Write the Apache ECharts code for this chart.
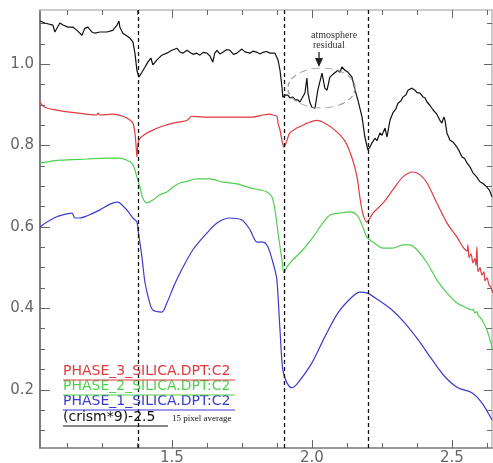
<!DOCTYPE html>
<html><head><meta charset="utf-8">
<script src="https://cdn.jsdelivr.net/npm/echarts@6/dist/echarts.min.js"></script>
<style>html,body{margin:0;padding:0;background:#fff}#c{width:493px;height:463px}</style>
</head><body><div id="c"></div>
<script>
// wavelength (micron), value
const crism = [[1.029,1.106],[1.046,1.101],[1.075,1.096],[1.082,1.079],[1.1,1.101],[1.111,1.096],[1.129,1.091],[1.146,1.091],[1.161,1.083],[1.179,1.071],[1.189,1.088],[1.2,1.091],[1.214,1.079],[1.225,1.076],[1.243,1.079],[1.268,1.079],[1.289,1.083],[1.304,1.096],[1.311,1.106],[1.314,1.091],[1.325,1.076],[1.35,1.064],[1.361,1.054],[1.368,1.027],[1.375,0.985],[1.382,0.968],[1.393,0.98],[1.404,0.993],[1.414,1.005],[1.425,1.015],[1.432,0.998],[1.446,1.01],[1.464,1.022],[1.482,1.027],[1.5,1.034],[1.518,1.039],[1.529,1.03],[1.539,1.027],[1.554,1.034],[1.564,1.029],[1.575,1.024],[1.589,1.027],[1.6,1.022],[1.611,1.029],[1.625,1.027],[1.636,1.02],[1.646,1.005],[1.653,1.027],[1.661,1.034],[1.671,1.025],[1.682,1.029],[1.696,1.036],[1.707,1.034],[1.72,1.024],[1.732,1.027],[1.75,1.037],[1.761,1.03],[1.779,1.027],[1.79,1.032],[1.804,1.029],[1.815,1.025],[1.825,1.029],[1.838,1.031],[1.85,1.027],[1.868,1.027],[1.879,1.01],[1.886,0.985],[1.893,0.944],[1.896,0.919],[1.904,0.924],[1.914,0.924],[1.921,0.917],[1.932,0.919],[1.94,0.912],[1.95,0.912],[1.957,0.907],[1.964,0.904],[1.975,0.929],[1.982,0.966],[1.986,0.929],[1.993,0.905],[2.0,0.894],[2.007,0.89],[2.011,0.892],[2.021,0.936],[2.036,0.978],[2.046,0.941],[2.054,0.936],[2.064,0.968],[2.075,0.975],[2.082,0.978],[2.093,0.985],[2.1,0.98],[2.107,0.993],[2.118,0.985],[2.129,0.98],[2.143,0.968],[2.154,0.936],[2.164,0.912],[2.179,0.87],[2.189,0.821],[2.2,0.789],[2.207,0.796],[2.214,0.806],[2.225,0.818],[2.232,0.812],[2.243,0.831],[2.25,0.825],[2.261,0.843],[2.268,0.821],[2.279,0.863],[2.289,0.88],[2.3,0.89],[2.307,0.904],[2.318,0.91],[2.325,0.919],[2.336,0.925],[2.343,0.936],[2.35,0.932],[2.357,0.941],[2.368,0.936],[2.375,0.93],[2.386,0.929],[2.396,0.92],[2.404,0.917],[2.411,0.907],[2.421,0.899],[2.432,0.888],[2.446,0.877],[2.457,0.862],[2.464,0.855],[2.471,0.87],[2.475,0.863],[2.482,0.831],[2.493,0.813],[2.505,0.808],[2.518,0.796],[2.527,0.785],[2.536,0.772],[2.545,0.768],[2.554,0.757],[2.564,0.748],[2.575,0.733],[2.586,0.725],[2.6,0.711],[2.612,0.706],[2.625,0.698],[2.634,0.69],[2.643,0.674]];
const phase3 = [[1.029,0.907],[1.046,0.894],[1.089,0.887],[1.136,0.882],[1.196,0.877],[1.232,0.875],[1.236,0.88],[1.243,0.875],[1.289,0.877],[1.325,0.872],[1.35,0.863],[1.361,0.855],[1.368,0.831],[1.372,0.8],[1.375,0.772],[1.379,0.805],[1.386,0.818],[1.404,0.828],[1.432,0.838],[1.468,0.848],[1.504,0.855],[1.529,0.858],[1.554,0.862],[1.571,0.872],[1.611,0.87],[1.661,0.87],[1.732,0.87],[1.789,0.87],[1.825,0.875],[1.85,0.877],[1.861,0.875],[1.875,0.872],[1.879,0.855],[1.886,0.838],[1.893,0.813],[1.9,0.796],[1.911,0.813],[1.921,0.831],[1.946,0.843],[1.968,0.85],[1.982,0.855],[2.018,0.862],[2.046,0.855],[2.082,0.838],[2.118,0.811],[2.143,0.77],[2.161,0.723],[2.171,0.674],[2.182,0.632],[2.196,0.612],[2.218,0.634],[2.254,0.659],[2.289,0.691],[2.325,0.723],[2.361,0.735],[2.386,0.728],[2.411,0.708],[2.446,0.659],[2.482,0.61],[2.518,0.575],[2.539,0.551],[2.554,0.541],[2.557,0.556],[2.561,0.525],[2.568,0.534],[2.575,0.512],[2.582,0.522],[2.586,0.505],[2.589,0.551],[2.593,0.49],[2.6,0.5],[2.607,0.482],[2.614,0.49],[2.618,0.468],[2.625,0.475],[2.632,0.458],[2.639,0.452],[2.646,0.438]];
const phase2 = [[1.029,0.757],[1.054,0.76],[1.1,0.764],[1.196,0.767],[1.268,0.769],[1.314,0.769],[1.339,0.764],[1.357,0.757],[1.368,0.74],[1.375,0.723],[1.386,0.698],[1.396,0.671],[1.411,0.659],[1.432,0.666],[1.457,0.679],[1.482,0.686],[1.504,0.698],[1.529,0.708],[1.554,0.712],[1.589,0.718],[1.636,0.718],[1.682,0.71],[1.732,0.706],[1.779,0.696],[1.814,0.691],[1.839,0.686],[1.857,0.674],[1.868,0.642],[1.879,0.585],[1.893,0.519],[1.9,0.487],[1.911,0.502],[1.932,0.519],[1.968,0.544],[2.004,0.575],[2.039,0.61],[2.064,0.629],[2.1,0.634],[2.136,0.637],[2.161,0.629],[2.182,0.6],[2.196,0.575],[2.218,0.563],[2.254,0.548],[2.289,0.548],[2.325,0.556],[2.35,0.556],[2.375,0.544],[2.411,0.512],[2.446,0.47],[2.482,0.438],[2.518,0.413],[2.554,0.401],[2.571,0.396],[2.575,0.398],[2.582,0.389],[2.589,0.392],[2.593,0.384],[2.607,0.372],[2.625,0.347],[2.636,0.323],[2.646,0.298]];
const phase1 = [[1.029,0.6],[1.054,0.612],[1.089,0.625],[1.125,0.632],[1.143,0.634],[1.154,0.622],[1.171,0.622],[1.196,0.627],[1.243,0.642],[1.279,0.656],[1.304,0.661],[1.314,0.659],[1.339,0.642],[1.361,0.622],[1.375,0.612],[1.379,0.593],[1.393,0.526],[1.404,0.463],[1.421,0.413],[1.432,0.396],[1.464,0.391],[1.482,0.413],[1.504,0.45],[1.529,0.487],[1.575,0.544],[1.625,0.585],[1.661,0.61],[1.707,0.622],[1.75,0.617],[1.779,0.593],[1.804,0.563],[1.825,0.563],[1.843,0.551],[1.861,0.512],[1.868,0.494],[1.875,0.47],[1.886,0.347],[1.896,0.249],[1.911,0.217],[1.929,0.205],[1.95,0.217],[2.0,0.266],[2.046,0.33],[2.093,0.389],[2.143,0.428],[2.171,0.44],[2.196,0.438],[2.236,0.421],[2.286,0.396],[2.332,0.364],[2.379,0.323],[2.429,0.274],[2.475,0.232],[2.521,0.205],[2.571,0.193],[2.607,0.168],[2.643,0.126]];
const bandLines = [1.38, 1.9, 2.2];
const xMajor = [1.5, 2.0, 2.5];
const xMinor = [1.125, 1.25, 1.375, 1.625, 1.75, 1.875, 2.125, 2.25, 2.375, 2.625];
const yMajor = [0.2, 0.4, 0.6, 0.8, 1.0];
const yMinor = [0.1, 0.15, 0.25, 0.3, 0.35, 0.45, 0.5, 0.55, 0.65, 0.7, 0.75, 0.85, 0.9, 0.95, 1.05, 1.1];
const seriesNames = ['PHASE_3_SILICA.DPT:C2', 'PHASE_2_SILICA.DPT:C2', 'PHASE_1_SILICA.DPT:C2', '(crism*9)-2.5'];
const colors = ['#e0393e', '#4fd04f', '#3c3ccc', '#111111'];
const XMIN = 1.029, XMAX = 2.643, YMIN = 0.057, YMAX = 1.133;

const chart = echarts.init(document.getElementById('c'));
function xAx(pos, vals, len, showLabel, lineColor) {
  return {type:'value', min:XMIN, max:XMAX, position:pos,
    axisLine:{show:lineColor!==null, onZero:false, lineStyle:{color:lineColor||'#777', width:1.5}},
    axisTick:{show:true, inside:true, length:len, customValues:vals, lineStyle:{color:'#666', width:1}},
    axisLabel:{show:showLabel, customValues:vals, formatter:v=>v.toFixed(1), fontSize:15, color:'#666', margin:3, fontFamily:'DejaVu Sans'},
    splitLine:{show:false}};
}
function yAx(pos, vals, len, showLabel, lineColor) {
  return {type:'value', min:YMIN, max:YMAX, position:pos,
    axisLine:{show:lineColor!==null, onZero:false, lineStyle:{color:lineColor||'#777', width:1.5}},
    axisTick:{show:true, inside:true, length:len, customValues:vals, lineStyle:{color:'#666', width:1}},
    axisLabel:{show:showLabel, customValues:vals, formatter:v=>v.toFixed(1), fontSize:15, color:'#666', margin:6, fontFamily:'DejaVu Sans'},
    splitLine:{show:false}};
}
const lineSeries = (name, data, color, extra) => Object.assign({
  name, type:'line', data, showSymbol:false, symbol:'none', animation:false,
  lineStyle:{color, width:1.2}, xAxisIndex:0, yAxisIndex:0, z:3
}, extra||{});
const smoothOpts = {smooth:0.3};

const legendY = [373, 388, 403, 419];
const gfx = [];
seriesNames.forEach((n, i) => {
  gfx.push({type:'text', left:63, top:legendY[i]-9, style:{text:n, fill:colors[i], font:'14px "DejaVu Sans"'}, z:10});
});
[[0,235],[1,235],[2,235],[3,168]].forEach(([i,r]) => {
  gfx.push({type:'line', shape:{x1:63, y1:legendY[i]+7, x2:r, y2:legendY[i]+7}, style:{stroke:colors[i], lineWidth:1.2}, z:10});
});
gfx.push({type:'text', left:172, top:414, style:{text:'15 pixel average', fill:'#111', font:'9px "Liberation Serif"'}, z:10});
gfx.push({type:'text', left:311, top:30, style:{text:'atmosphere', fill:'#333', font:'10px "Liberation Serif"', textAlign:'center'}, z:10});
gfx.push({type:'text', left:313, top:40, style:{text:'residual', fill:'#333', font:'10px "Liberation Serif"', textAlign:'center'}, z:10});
gfx.push({type:'line', shape:{x1:319, y1:52, x2:319, y2:62}, style:{stroke:'#222', lineWidth:1.3}, z:10});
gfx.push({type:'polygon', shape:{points:[[315,58],[323,58],[319,67]]}, style:{fill:'#222'}, z:10});
gfx.push({type:'circle', x:321.5, y:88, scaleX:1.68, scaleY:1, shape:{cx:0, cy:0, r:20}, style:{fill:'none', stroke:'#999', lineWidth:0.8, lineDash:[5,3]}, z:10});

chart.setOption({
  animation:false,
  backgroundColor:'#fff',
  grid:{left:40, right:1, top:10, bottom:15, containLabel:false, outerBoundsMode:'none'},
  xAxis:[xAx('bottom', xMajor, 8, true, '#777'), xAx('bottom', xMinor, 5, false, null),
         xAx('top', xMajor, 8, false, '#bbb'), xAx('top', xMinor, 5, false, null)],
  yAxis:[yAx('left', yMajor, 10, true, '#555'), yAx('left', yMinor, 5, false, null),
         yAx('right', yMajor, 8, false, '#bbb'), yAx('right', yMinor, 5, false, null)],
  series:[
    lineSeries(seriesNames[3], crism, colors[3], {markLine:{silent:true, symbol:'none', label:{show:false},
      lineStyle:{color:'#111', width:1.3, type:[4,3]}, data:bandLines.map(v=>({xAxis:v}))}}),
    lineSeries(seriesNames[0], phase3, colors[0], smoothOpts),
    lineSeries(seriesNames[1], phase2, colors[1], smoothOpts),
    lineSeries(seriesNames[2], phase1, colors[2], smoothOpts)
  ],
  graphic: gfx
});
</script></body></html>
